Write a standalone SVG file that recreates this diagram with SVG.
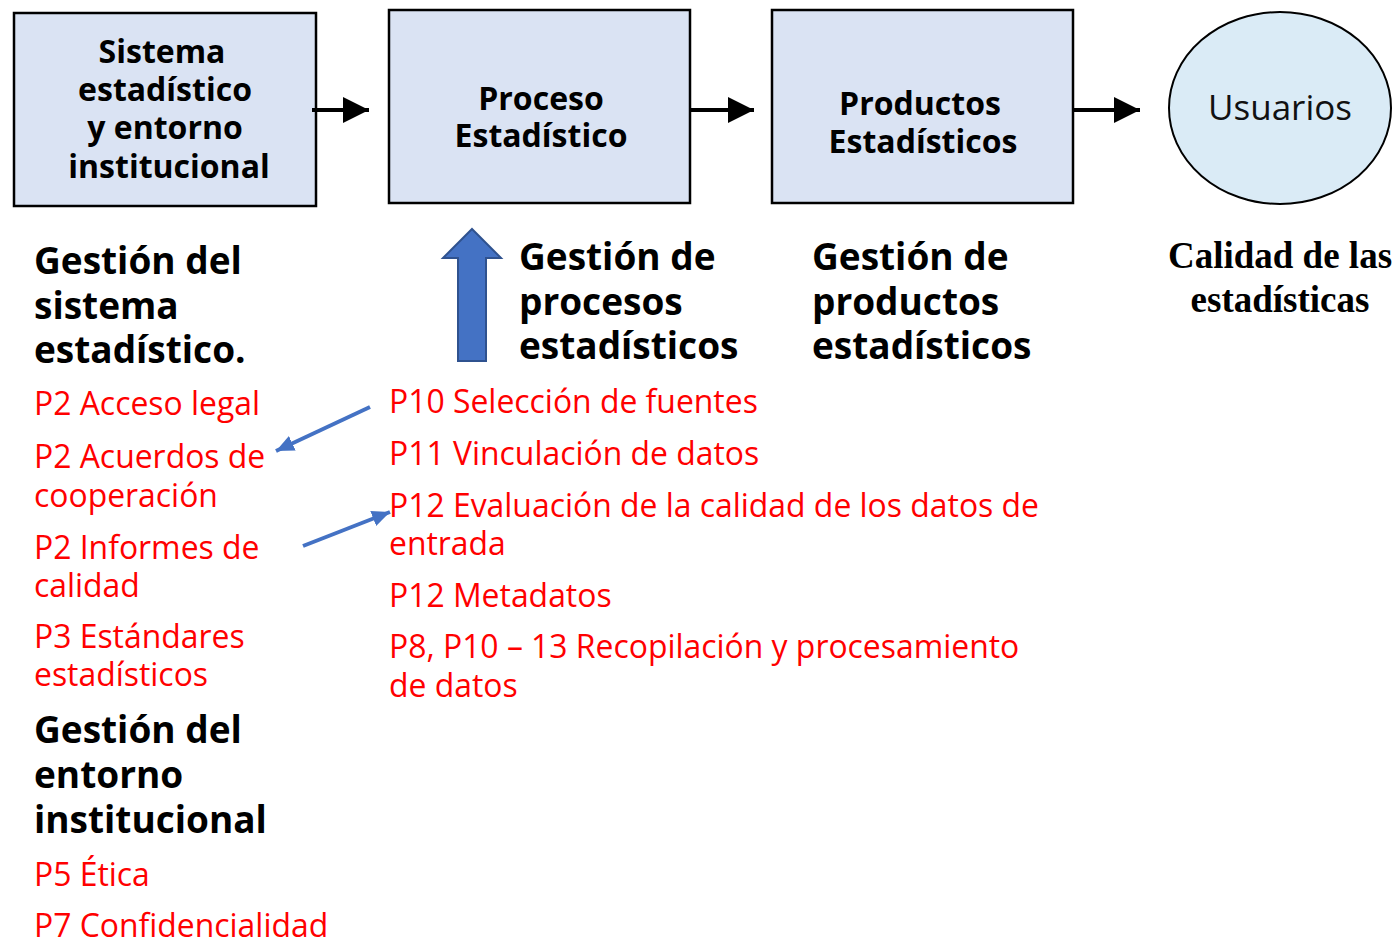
<svg xmlns="http://www.w3.org/2000/svg" width="1397" height="940" viewBox="0 0 1397 940">
<defs>
<style>
.box{fill:#DAE3F3;stroke:#000;stroke-width:2.5}
.bt{font-family:"Open Sans","Liberation Sans",sans-serif;font-weight:700;font-size:32px;fill:#000;text-anchor:middle}
.hd{font-family:"Open Sans","Liberation Sans",sans-serif;font-weight:700;font-size:37px;fill:#000}
.rd{font-family:"Open Sans","Liberation Sans",sans-serif;font-size:31.9px;fill:#FF0000}
.conn{stroke:#000;stroke-width:4;fill:none}
.blue{stroke:#4472C4;stroke-width:4;fill:none}
</style>
<marker id="ah" markerUnits="userSpaceOnUse" markerWidth="26" markerHeight="26" refX="26" refY="13" orient="auto"><path d="M0,0 L26,13 L0,26 Z" fill="#000"/></marker>
<marker id="bh" markerUnits="userSpaceOnUse" markerWidth="18" markerHeight="16" refX="18" refY="8" orient="auto"><path d="M0,0 L18,8 L0,16 Z" fill="#4472C4"/></marker>
</defs>
<g id="n1"><rect class="box" x="14" y="13" width="302" height="193"/>
<text class="bt" x="162" y="63">Sistema</text>
<text class="bt" x="165" y="101">estadístico</text>
<text class="bt" x="165" y="139">y entorno</text>
<text class="bt" x="169" y="178">institucional</text></g>
<g id="n2"><rect class="box" x="389" y="10" width="301" height="193"/>
<text class="bt" x="541" y="110">Proceso</text>
<text class="bt" x="541" y="147">Estadístico</text></g>
<g id="n3"><rect class="box" x="772" y="10" width="301" height="193"/>
<text class="bt" x="920" y="115">Productos</text>
<text class="bt" x="923" y="153">Estadísticos</text></g>
<g id="n4"><ellipse cx="1280" cy="108" rx="111" ry="96" fill="#DAEBF6" stroke="#000" stroke-width="2"/>
<text x="1280" y="120" font-family="'Open Sans','Liberation Sans',sans-serif" font-size="35" text-anchor="middle" fill="#111">Usuarios</text></g>
<g id="connectors">
<line class="conn" x1="312" y1="110" x2="369" y2="110" marker-end="url(#ah)"/>
<line class="conn" x1="690" y1="110" x2="754" y2="110" marker-end="url(#ah)"/>
<line class="conn" x1="1073" y1="110" x2="1140" y2="110" marker-end="url(#ah)"/>
<line class="blue" x1="370" y1="407" x2="276" y2="451" marker-end="url(#bh)"/>
<line class="blue" x1="303" y1="546" x2="390" y2="512" marker-end="url(#bh)"/>
<path d="M472,229 L501,258 L486,258 L486,361 L458,361 L458,258 L443,258 Z" fill="#4472C4" stroke="#2F528F" stroke-width="2"/>
</g>
<g id="left">
<text class="hd" x="34" y="274">Gestión del</text>
<text class="hd" x="34" y="319">sistema</text>
<text class="hd" x="34" y="363">estadístico.</text>
<text class="rd" x="34" y="415">P2 Acceso legal</text>
<text class="rd" x="34" y="468">P2 Acuerdos de</text>
<text class="rd" x="34" y="507">cooperación</text>
<text class="rd" x="34" y="559">P2 Informes de</text>
<text class="rd" x="34" y="597">calidad</text>
<text class="rd" x="34" y="648">P3 Estándares</text>
<text class="rd" x="34" y="686">estadísticos</text>
<text class="hd" x="34" y="743">Gestión del</text>
<text class="hd" x="34" y="788">entorno</text>
<text class="hd" x="34" y="833">institucional</text>
<text class="rd" x="34" y="886">P5 Ética</text>
<text class="rd" x="34" y="937">P7 Confidencialidad</text>
</g>
<g id="middle">
<text class="hd" x="519" y="270">Gestión de</text>
<text class="hd" x="519" y="315">procesos</text>
<text class="hd" x="519" y="359">estadísticos</text>
<text class="rd" x="389" y="413">P10 Selección de fuentes</text>
<text class="rd" x="389" y="465">P11 Vinculación de datos</text>
<text class="rd" x="389" y="517">P12 Evaluación de la calidad de los datos de</text>
<text class="rd" x="389" y="555">entrada</text>
<text class="rd" x="389" y="607">P12 Metadatos</text>
<text class="rd" x="389" y="658">P8, P10 – 13 Recopilación y procesamiento</text>
<text class="rd" x="389" y="697">de datos</text>
</g>
<g id="right">
<text class="hd" x="812" y="270">Gestión de</text>
<text class="hd" x="812" y="315">productos</text>
<text class="hd" x="812" y="359">estadísticos</text>
<text x="1280" y="268" font-family="'Liberation Serif','Times New Roman',serif" font-weight="700" font-size="37" text-anchor="middle">Calidad de las</text>
<text x="1280" y="312" font-family="'Liberation Serif','Times New Roman',serif" font-weight="700" font-size="37" text-anchor="middle">estadísticas</text>
</g>
</svg>
